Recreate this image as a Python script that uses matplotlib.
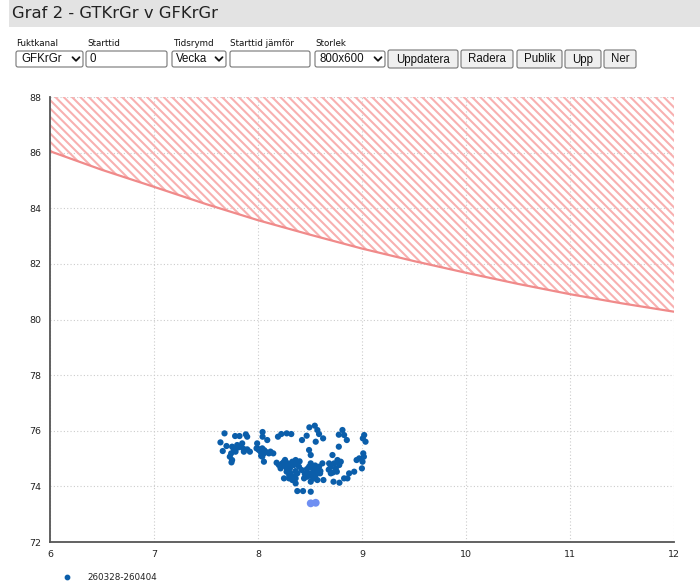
import matplotlib.pyplot as plt
from matplotlib.patches import FancyBboxPatch, Rectangle

# Limit curve (upper allowed value vs x)
limit_x = [6.0, 6.5, 7.0, 7.5, 8.0, 8.5, 9.0, 9.5, 10.0, 10.5, 11.0, 11.5, 12.0]
limit_y = [86.05, 85.38, 84.77, 84.15, 83.57, 83.05, 82.55, 82.10, 81.68, 81.28, 80.91, 80.58, 80.28]

# Measured points, period 260328-260404
pts_x = [7.678, 7.780, 7.822, 7.883, 7.896, 8.044, 8.044, 8.224, 8.276, 8.320,
         8.494, 8.546, 8.571, 8.587, 8.468, 8.423, 8.626, 8.777, 8.812, 8.828,
         8.854, 9.021, 9.008, 9.034, 7.639, 7.697, 7.661, 7.751, 7.767, 7.784,
         7.742, 7.800, 7.832, 7.848, 7.864, 7.922, 7.896, 7.729, 7.751, 7.745,
         7.992, 7.986, 8.009, 8.025, 8.041, 8.057, 8.073, 8.105, 8.089, 8.147,
         8.041, 8.057, 8.192, 8.179, 8.201, 8.217, 8.234, 8.250, 8.266, 8.275,
         8.288, 8.307, 8.330, 8.346, 8.362, 8.378, 8.394, 8.314, 8.346, 8.330,
         8.362, 8.378, 8.298, 8.250, 8.420, 8.362, 8.378, 8.433, 8.507, 8.491,
         8.507, 8.523, 8.539, 8.555, 8.571, 8.587, 8.597, 8.619, 8.539, 8.507,
         8.523, 8.571, 8.629, 8.491, 8.476, 8.443, 8.507, 8.491, 8.555, 8.684,
         8.700, 8.716, 8.732, 8.748, 8.764, 8.781, 8.796, 8.758, 8.700, 8.726,
         8.783, 8.828, 8.860, 8.876, 8.925, 8.948, 8.973, 9.005, 8.999, 9.012,
         9.018, 8.777, 8.240, 8.280, 8.320, 8.360, 8.400, 8.260, 8.300, 8.450,
         8.470, 8.530, 8.550, 8.600, 8.000, 8.030, 7.810, 7.860, 8.060, 8.120,
         8.680, 8.720]
pts_y = [75.906, 75.810, 75.810, 75.870, 75.786, 75.954, 75.786, 75.882, 75.906, 75.882,
         76.122, 76.182, 76.026, 75.882, 75.822, 75.666, 75.726, 75.858, 76.026, 75.846,
         75.666, 75.846, 75.726, 75.606, 75.582, 75.451, 75.271, 75.427, 75.331, 75.247,
         75.187, 75.486, 75.427, 75.546, 75.247, 75.247, 75.331, 75.067, 74.947, 74.863,
         75.546, 75.367, 75.307, 75.247, 75.367, 75.187, 75.247, 75.187, 75.666, 75.187,
         75.067, 74.887, 75.786, 74.851, 74.767, 74.647, 74.827, 74.887, 74.707, 74.528,
         74.827, 74.647, 74.887, 74.767, 74.947, 74.827, 74.707, 74.468, 74.348, 74.228,
         74.288, 74.468, 74.288, 74.288, 74.588, 74.108, 73.832, 73.832, 73.808, 74.707,
         74.827, 74.647, 74.528, 74.408, 74.588, 74.707, 74.468, 74.827, 74.288, 74.168,
         74.348, 74.228, 74.228, 74.468, 74.348, 74.288, 75.127, 75.307, 75.606, 74.827,
         74.707, 75.127, 74.827, 74.647, 74.947, 74.767, 74.887, 74.528, 74.468, 74.168,
         74.132, 74.288, 74.288, 74.468, 74.528, 74.947, 75.007, 74.887, 74.647, 75.187,
         75.067, 75.427, 74.750, 74.600, 74.800, 74.550, 74.900, 74.950, 74.400, 74.450,
         74.620, 74.400, 74.750, 74.550, 75.350, 75.100, 75.400, 75.350, 75.300, 75.250,
         74.600, 74.500]

# Latest points (highlighted)
last_x = [8.507, 8.555]
last_y = [73.39, 73.41]

legend_label = '260328-260404'
x_ticks = [6, 7, 8, 9, 10, 11, 12]
y_ticks = [72, 74, 76, 78, 80, 82, 84, 86, 88]

plt.rcParams['hatch.linewidth'] = 1.5
W, H = 700, 585
fig = plt.figure(figsize=(7, 5.85), dpi=100)

# ---- page overlay in pixel coordinates ----
ui = fig.add_axes([0, 0, 1, 1])
ui.set_xlim(0, W)
ui.set_ylim(H, 0)
ui.axis('off')

ui.add_patch(Rectangle((9, 0), W - 9, 27, facecolor='#e3e3e3', edgecolor='none'))
ui.text(12, 14, 'Graf 2 - GTKrGr v GFKrGr', fontsize=11.8, color='#222222',
        va='center', ha='left', family='DejaVu Sans')

labels = [(16, 'Fuktkanal'), (87, 'Starttid'), (173, 'Tidsrymd'),
          (230, 'Starttid jämför'), (315, 'Storlek')]
for lx, txt in labels:
    ui.text(lx, 43, txt, fontsize=6.3, va='center', ha='left', color='#111111')


def box(x0, x1, y0, y1, fill, text=None, tx=None, chevron=False, center=False):
    ui.add_patch(FancyBboxPatch((x0, y0), x1 - x0, y1 - y0,
                                boxstyle='round,pad=0,rounding_size=2',
                                facecolor=fill, edgecolor='#767676', linewidth=0.8))
    if text is not None:
        if center:
            ui.text((x0 + x1) / 2, (y0 + y1) / 2 + 0.5, text, fontsize=8.3,
                    ha='center', va='center', color='#111111', family='Liberation Sans')
        else:
            ui.text(tx, (y0 + y1) / 2 + 0.5, text, fontsize=8.3,
                    ha='left', va='center', color='#111111', family='Liberation Sans')
    if chevron:
        cx = x1 - 7
        cy = (y0 + y1) / 2
        ui.plot([cx - 3.5, cx, cx + 3.5], [cy - 1.8, cy + 1.8, cy - 1.8],
                color='#111111', lw=1.3, solid_capstyle='round')


box(16, 83, 51, 67, 'white', 'GFKrGr', 21, chevron=True)
box(86, 167, 51, 67, 'white', '0', 89)
box(172, 226, 51, 67, 'white', 'Vecka', 176, chevron=True)
box(230, 310, 51, 67, 'white')
box(315, 385, 51, 67, 'white', '800x600', 319, chevron=True)
buttons = [(388, 458, 'Uppdatera'), (461, 513, 'Radera'), (517, 562, 'Publik'),
           (565, 601, 'Upp'), (604, 636, 'Ner')]
for bx0, bx1, bt in buttons:
    box(bx0, bx1, 50, 68, '#efefef', bt, center=True)

# legend row
ui.scatter([67], [577], s=10, color='#0b5eaa')
ui.text(87, 577, legend_label, fontsize=6.3, va='center', ha='left', color='#222222')

# ---- chart ----
ax = fig.add_axes([50 / W, 1 - 542 / H, 624 / W, 445 / H])
ax.fill_between(limit_x, limit_y, 88, facecolor='none', edgecolor='#f8b0b0',
                hatch='\\' * 4, linewidth=0)
ax.plot(limit_x, limit_y, color='#f08a8a', linewidth=1.6)
ax.scatter(pts_x, pts_y, s=20, color='#0b5eaa', edgecolors='none', zorder=3)
ax.scatter(last_x, last_y, s=32, color='#6f8ff2', edgecolors='none', zorder=3)

ax.set_xlim(6, 12)
ax.set_ylim(72, 88)
ax.set_xticks(x_ticks)
ax.set_yticks(y_ticks)
ax.tick_params(length=0, labelsize=6.8, colors='#222222', pad=6)
ax.grid(True, linestyle=(0, (1, 2)), color='#cccccc', linewidth=0.8)
ax.set_axisbelow(True)
for side in ['top', 'right']:
    ax.spines[side].set_visible(False)
for side in ['left', 'bottom']:
    ax.spines[side].set_color('#555555')
    ax.spines[side].set_linewidth(1.3)

fig.savefig('out.png', dpi=100)
